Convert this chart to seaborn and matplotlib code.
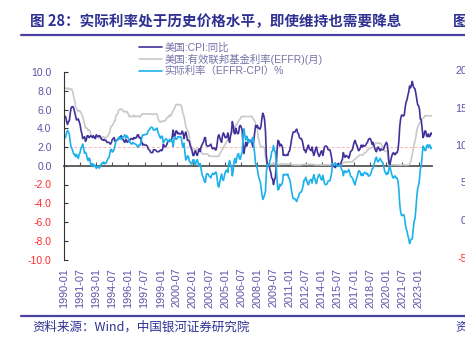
import numpy as np
import pandas as pd
import matplotlib
matplotlib.use("Agg")
import matplotlib.pyplot as plt
import matplotlib.dates as mdates
from matplotlib.lines import Line2D
import seaborn as sns

# ---------------- data (monthly, 1990-01 .. 2024-04) ----------------
start_month = "1990-01-01"
cpi_yoy = [
    5.2, 5.3, 5.2, 4.7, 4.4, 4.7, 4.8, 5.6, 6.2, 6.3, 6.3, 6.1,   # 1990
    5.7, 5.3, 4.9, 4.9, 5.0, 4.7, 4.4, 3.8, 3.4, 2.9, 3.0, 3.1,   # 1991
    2.6, 2.8, 3.2, 3.2, 3.0, 3.1, 3.2, 3.1, 3.0, 3.2, 3.0, 2.9,   # 1992
    3.3, 3.2, 3.1, 3.2, 3.2, 3.0, 2.8, 2.8, 2.7, 2.8, 2.7, 2.7,   # 1993
    2.5, 2.5, 2.5, 2.4, 2.3, 2.5, 2.8, 2.9, 3.0, 2.6, 2.7, 2.7,   # 1994
    2.8, 2.9, 2.9, 3.1, 3.2, 3.0, 2.8, 2.6, 2.5, 2.8, 2.6, 2.5,   # 1995
    2.7, 2.7, 2.8, 2.9, 2.9, 2.8, 3.0, 2.9, 3.0, 3.0, 3.3, 3.3,   # 1996
    3.0, 3.0, 2.8, 2.5, 2.2, 2.3, 2.2, 2.2, 2.2, 2.1, 1.8, 1.7,   # 1997
    1.6, 1.4, 1.4, 1.4, 1.7, 1.7, 1.7, 1.6, 1.5, 1.5, 1.5, 1.6,   # 1998
    1.7, 1.6, 1.7, 2.3, 2.1, 2.0, 2.1, 2.3, 2.6, 2.6, 2.6, 2.7,   # 1999
    2.7, 3.2, 3.8, 3.1, 3.2, 3.7, 3.7, 3.4, 3.5, 3.4, 3.4, 3.4,   # 2000
    3.7, 3.5, 2.9, 3.3, 3.6, 3.2, 2.7, 2.7, 2.6, 2.1, 1.9, 1.6,   # 2001
    1.1, 1.1, 1.5, 1.6, 1.2, 1.1, 1.5, 1.8, 1.5, 2.0, 2.2, 2.4,   # 2002
    2.6, 3.0, 3.0, 2.2, 2.1, 2.1, 2.1, 2.2, 2.3, 2.0, 1.8, 1.9,   # 2003
    1.9, 1.7, 1.7, 2.3, 3.1, 3.3, 3.0, 2.7, 2.5, 3.2, 3.5, 3.3,   # 2004
    3.0, 3.0, 3.1, 3.5, 2.8, 2.5, 3.2, 3.6, 4.7, 4.3, 3.5, 3.4,   # 2005
    4.0, 3.6, 3.4, 3.5, 4.2, 4.3, 4.1, 3.8, 2.1, 1.3, 2.0, 2.5,   # 2006
    2.1, 2.4, 2.8, 2.6, 2.7, 2.7, 2.4, 2.0, 2.8, 3.5, 4.3, 4.1,   # 2007
    4.3, 4.0, 4.0, 3.9, 4.2, 5.0, 5.6, 5.4, 4.9, 3.7, 1.1, 0.1,   # 2008
    0.0, 0.2, -0.4, -0.7, -1.3, -1.4, -2.0, -1.5, -1.3, -0.2, 1.8, 2.7,  # 2009
    2.6, 2.1, 2.3, 2.2, 2.0, 1.1, 1.2, 1.1, 1.1, 1.2, 1.1, 1.5,   # 2010
    1.6, 2.1, 2.7, 3.2, 3.6, 3.6, 3.6, 3.8, 3.9, 3.5, 3.4, 3.0,   # 2011
    2.9, 2.9, 2.7, 2.3, 1.7, 1.7, 1.4, 1.7, 2.0, 2.2, 1.8, 1.7,   # 2012
    1.6, 2.0, 1.5, 1.1, 1.4, 1.8, 2.0, 1.5, 1.2, 1.0, 1.2, 1.5,   # 2013
    1.6, 1.1, 1.5, 2.0, 2.1, 2.1, 2.0, 1.7, 1.7, 1.7, 1.3, 0.8,   # 2014
    -0.1, 0.0, -0.1, -0.2, 0.0, 0.1, 0.2, 0.2, 0.0, 0.2, 0.5, 0.7,  # 2015
    1.4, 1.0, 0.9, 1.1, 1.0, 1.0, 0.8, 1.1, 1.5, 1.6, 1.7, 2.1,   # 2016
    2.5, 2.7, 2.4, 2.2, 1.9, 1.6, 1.7, 1.9, 2.2, 2.0, 2.2, 2.1,   # 2017
    2.1, 2.2, 2.4, 2.5, 2.8, 2.9, 2.9, 2.7, 2.3, 2.5, 2.2, 1.9,   # 2018
    1.6, 1.5, 1.9, 2.0, 1.8, 1.6, 1.8, 1.7, 1.7, 1.8, 2.1, 2.3,   # 2019
    2.5, 2.3, 1.5, 0.3, 0.1, 0.6, 1.0, 1.3, 1.4, 1.2, 1.2, 1.4,   # 2020
    1.4, 1.7, 2.6, 4.2, 5.0, 5.4, 5.4, 5.3, 5.4, 6.2, 6.8, 7.0,   # 2021
    7.5, 7.9, 8.5, 8.3, 8.6, 9.0, 8.5, 8.3, 8.2, 7.7, 7.1, 6.5,   # 2022
    6.4, 6.0, 5.0, 4.9, 4.0, 3.0, 3.2, 3.7, 3.7, 3.2, 3.1, 3.4,   # 2023
    3.1, 3.2, 3.5, 3.4,                                           # 2024
]
effr = [
    8.23, 8.24, 8.28, 8.26, 8.18, 8.29, 8.15, 8.13, 8.20, 8.11, 7.81, 7.31,  # 1990
    6.91, 6.25, 6.12, 5.91, 5.78, 5.90, 5.82, 5.66, 5.45, 5.21, 4.81, 4.43,  # 1991
    4.03, 4.06, 3.98, 3.73, 3.82, 3.76, 3.25, 3.30, 3.22, 3.10, 3.09, 2.92,  # 1992
    3.02, 3.03, 3.07, 2.96, 3.00, 3.04, 3.06, 3.03, 3.09, 2.99, 3.02, 2.96,  # 1993
    3.05, 3.25, 3.34, 3.56, 4.01, 4.25, 4.26, 4.47, 4.73, 4.76, 5.29, 5.45,  # 1994
    5.53, 5.92, 5.98, 6.05, 6.01, 6.00, 5.85, 5.74, 5.80, 5.76, 5.80, 5.60,  # 1995
    5.56, 5.22, 5.31, 5.22, 5.24, 5.27, 5.40, 5.22, 5.30, 5.24, 5.31, 5.29,  # 1996
    5.25, 5.19, 5.39, 5.51, 5.50, 5.56, 5.52, 5.54, 5.54, 5.50, 5.52, 5.50,  # 1997
    5.56, 5.51, 5.49, 5.45, 5.49, 5.56, 5.54, 5.55, 5.51, 5.07, 4.83, 4.68,  # 1998
    4.63, 4.76, 4.81, 4.74, 4.74, 4.76, 4.99, 5.07, 5.22, 5.20, 5.42, 5.30,  # 1999
    5.45, 5.73, 5.85, 6.02, 6.27, 6.53, 6.54, 6.50, 6.52, 6.51, 6.51, 6.40,  # 2000
    5.98, 5.49, 5.31, 4.80, 4.21, 3.97, 3.77, 3.65, 3.07, 2.49, 2.09, 1.82,  # 2001
    1.73, 1.74, 1.73, 1.75, 1.75, 1.75, 1.73, 1.74, 1.75, 1.75, 1.34, 1.24,  # 2002
    1.24, 1.26, 1.25, 1.26, 1.26, 1.22, 1.01, 1.03, 1.01, 1.01, 1.00, 0.98,  # 2003
    1.00, 1.01, 1.00, 1.00, 1.00, 1.03, 1.26, 1.43, 1.61, 1.76, 1.93, 2.16,  # 2004
    2.28, 2.50, 2.63, 2.79, 3.00, 3.04, 3.26, 3.50, 3.62, 3.78, 4.00, 4.16,  # 2005
    4.29, 4.49, 4.59, 4.79, 4.94, 4.99, 5.24, 5.25, 5.25, 5.25, 5.25, 5.24,  # 2006
    5.25, 5.26, 5.26, 5.25, 5.25, 5.25, 5.26, 5.02, 4.94, 4.76, 4.49, 4.24,  # 2007
    3.94, 2.98, 2.61, 2.28, 1.98, 2.00, 2.01, 2.00, 1.81, 0.97, 0.39, 0.16,  # 2008
    0.15, 0.22, 0.18, 0.15, 0.18, 0.21, 0.16, 0.16, 0.15, 0.12, 0.12, 0.12,  # 2009
    0.11, 0.13, 0.16, 0.20, 0.20, 0.18, 0.18, 0.19, 0.19, 0.19, 0.19, 0.18,  # 2010
    0.17, 0.16, 0.14, 0.10, 0.09, 0.09, 0.07, 0.10, 0.08, 0.07, 0.08, 0.07,  # 2011
    0.08, 0.10, 0.13, 0.14, 0.16, 0.16, 0.16, 0.13, 0.14, 0.16, 0.16, 0.16,  # 2012
    0.14, 0.15, 0.14, 0.15, 0.11, 0.09, 0.09, 0.08, 0.08, 0.09, 0.08, 0.09,  # 2013
    0.07, 0.07, 0.08, 0.09, 0.09, 0.10, 0.09, 0.09, 0.09, 0.09, 0.09, 0.12,  # 2014
    0.11, 0.11, 0.11, 0.12, 0.12, 0.13, 0.13, 0.14, 0.14, 0.12, 0.12, 0.24,  # 2015
    0.34, 0.38, 0.36, 0.37, 0.37, 0.38, 0.39, 0.40, 0.40, 0.40, 0.41, 0.54,  # 2016
    0.65, 0.66, 0.79, 0.90, 0.91, 1.04, 1.15, 1.16, 1.15, 1.15, 1.16, 1.30,  # 2017
    1.41, 1.42, 1.51, 1.69, 1.70, 1.82, 1.91, 1.91, 1.95, 2.19, 2.20, 2.27,  # 2018
    2.40, 2.40, 2.41, 2.42, 2.39, 2.38, 2.40, 2.13, 2.04, 1.83, 1.55, 1.55,  # 2019
    1.55, 1.58, 0.65, 0.05, 0.05, 0.08, 0.09, 0.10, 0.09, 0.09, 0.09, 0.09,  # 2020
    0.09, 0.08, 0.07, 0.07, 0.06, 0.08, 0.10, 0.09, 0.08, 0.08, 0.08, 0.08,  # 2021
    0.08, 0.08, 0.20, 0.33, 0.77, 1.21, 1.68, 2.33, 2.56, 3.08, 3.78, 4.10,  # 2022
    4.33, 4.57, 4.65, 4.83, 5.06, 5.08, 5.12, 5.33, 5.33, 5.33, 5.33, 5.33,  # 2023
    5.33, 5.33, 5.33, 5.33,                                                  # 2024
]
series_labels = ["美国:CPI:同比", "美国:有效联邦基金利率(EFFR)(月)", "实际利率（EFFR-CPI）%"]
tick_labels = ["1990-01", "1991-07", "1993-01", "1994-07", "1996-01", "1997-07",
               "1999-01", "2000-07", "2002-01", "2003-07", "2005-01", "2006-07",
               "2008-01", "2009-07", "2011-01", "2012-07", "2014-01", "2015-07",
               "2017-01", "2018-07", "2020-01", "2021-07", "2023-01"]
y_ticks = [10.0, 8.0, 6.0, 4.0, 2.0, 0.0, -2.0, -4.0, -6.0, -8.0, -10.0]
ref_level = 2.0
right_chart_ticks = ["20", "15", "10", "5", "0", "-5"]

# ---------------- frame ----------------
dates = pd.date_range(start_month, periods=len(cpi_yoy), freq="MS")
df = pd.DataFrame({"x": mdates.date2num(dates), "cpi": cpi_yoy, "effr": effr})
df["real"] = df["effr"] - df["cpi"]   # real rate as defined in the legend: EFFR - CPI

# ---------------- style ----------------
sns.set_style("white")
FAM = ["Liberation Sans", "Noto Sans CJK SC", "DejaVu Sans"]
plt.rcParams["font.family"] = FAM

C_CPI = "#40329a"
C_EFFR = "#c9c9c9"
C_REAL = "#1db1ec"
C_POS = "#5a54a8"
C_NEG = "#ff2a2a"
C_TITLE = "#2e3192"

W, H = 465, 339
fig = plt.figure(figsize=(W / 100, H / 100), dpi=100)
ax = fig.add_axes([64 / W, 1 - 259.5 / H, 368 / W, 187.5 / H])

sns.lineplot(data=df, x="x", y="effr", ax=ax, color=C_EFFR, lw=1.2, label=series_labels[1])
sns.lineplot(data=df, x="x", y="cpi", ax=ax, color=C_CPI, lw=1.2, label=series_labels[0])
sns.lineplot(data=df, x="x", y="real", ax=ax, color=C_REAL, lw=1.2, label=series_labels[2])
ax.axhline(ref_level, color="#ffb3b3", lw=0.7, ls=(0, (3, 2)), zorder=0.5)

ax.set_xlim(df["x"].iloc[0], df["x"].iloc[-1])
ax.set_ylim(-10, 10)
ax.set_xlabel("")
ax.set_ylabel("")

# y axis
ax.set_yticks(y_ticks)
ax.set_yticklabels([f"{v:.1f}" for v in y_ticks])
ax.tick_params(axis="y", direction="in", length=3, width=0.8, color="#333333",
               pad=9, labelsize=7.5, left=True)
for lab, v in zip(ax.get_yticklabels(), y_ticks):
    lab.set_color(C_POS if v >= 0 else C_NEG)

# spines
for s in ["top", "right"]:
    ax.spines[s].set_visible(False)
ax.spines["left"].set_color("#333333")
ax.spines["left"].set_linewidth(0.8)
ax.spines["bottom"].set_position(("data", 0))
ax.spines["bottom"].set_color("#555555")
ax.spines["bottom"].set_linewidth(1.3)
ax.spines["bottom"].set_zorder(1)

tick_pos = mdates.date2num(pd.to_datetime(tick_labels))
ax.set_xticks(tick_pos)
ax.tick_params(axis="x", direction="in", length=3, width=0.8, color="#555555",
               labelbottom=False, bottom=True)

sec = ax.secondary_xaxis("bottom")
sec.set_xticks(tick_pos)
sec.set_xticklabels(tick_labels, rotation=90)
sec.tick_params(length=0, pad=6, labelsize=7.8, labelcolor=C_POS)
sec.spines["bottom"].set_visible(False)

# legend
h, l = ax.get_legend_handles_labels()
order = [series_labels.index(x) for x in l]
pairs = sorted(zip(order, h, l))
leg = ax.legend([p[1] for p in pairs], [p[2] for p in pairs],
                loc="upper left", bbox_to_anchor=(139 / W, 1 - 42.5 / H),
                bbox_transform=fig.transFigure, frameon=False, fontsize=7.5,
                handlelength=2.2, handletextpad=0.25, labelspacing=0.12,
                borderpad=0, borderaxespad=0)
for t in leg.get_texts():
    t.set_color("#7673a8")

# header / footer
fig.text(30 / W, 1 - 21 / H, "图 28：实际利率处于历史价格水平，即使维持也需要降息",
         fontsize=10.5, fontweight="bold", color=C_TITLE, va="center", ha="left",
         family=["Noto Sans CJK SC", "DejaVu Sans"])
fig.text(453 / W, 1 - 21 / H, "图", fontsize=10.5, fontweight="bold", color=C_TITLE,
         va="center", ha="left", family=["Noto Sans CJK SC", "DejaVu Sans"])
fig.add_artist(Line2D([21 / W, 1.0], [1 - 35 / H, 1 - 35 / H], transform=fig.transFigure,
                      color="#4a44a0", lw=1.6))
fig.add_artist(Line2D([21 / W, 1.0], [1 - 315.5 / H, 1 - 315.5 / H], transform=fig.transFigure,
                      color="#4a44a0", lw=1.6))
fig.text(32 / W, 1 - 327 / H, "资料来源：Wind，中国银河证券研究院", fontsize=9,
         style="italic", color=C_TITLE, va="center", ha="left",
         family=["Noto Sans CJK SC", "DejaVu Sans"])
fig.text(455 / W, 1 - 327 / H, "资", fontsize=9, color=C_TITLE, va="center", ha="left",
         family=["Noto Sans CJK SC", "DejaVu Sans"])

# neighbouring chart's axis labels (cut off at the right edge, as in the page)
for i, t in enumerate(right_chart_ticks):
    yy = 71 + i * 37.5
    fig.text(467 / W, 1 - yy / H, t, fontsize=7.8, ha="right", va="center",
             color=C_NEG if t.startswith("-") else C_POS)

fig.savefig("out.png", dpi=100)
